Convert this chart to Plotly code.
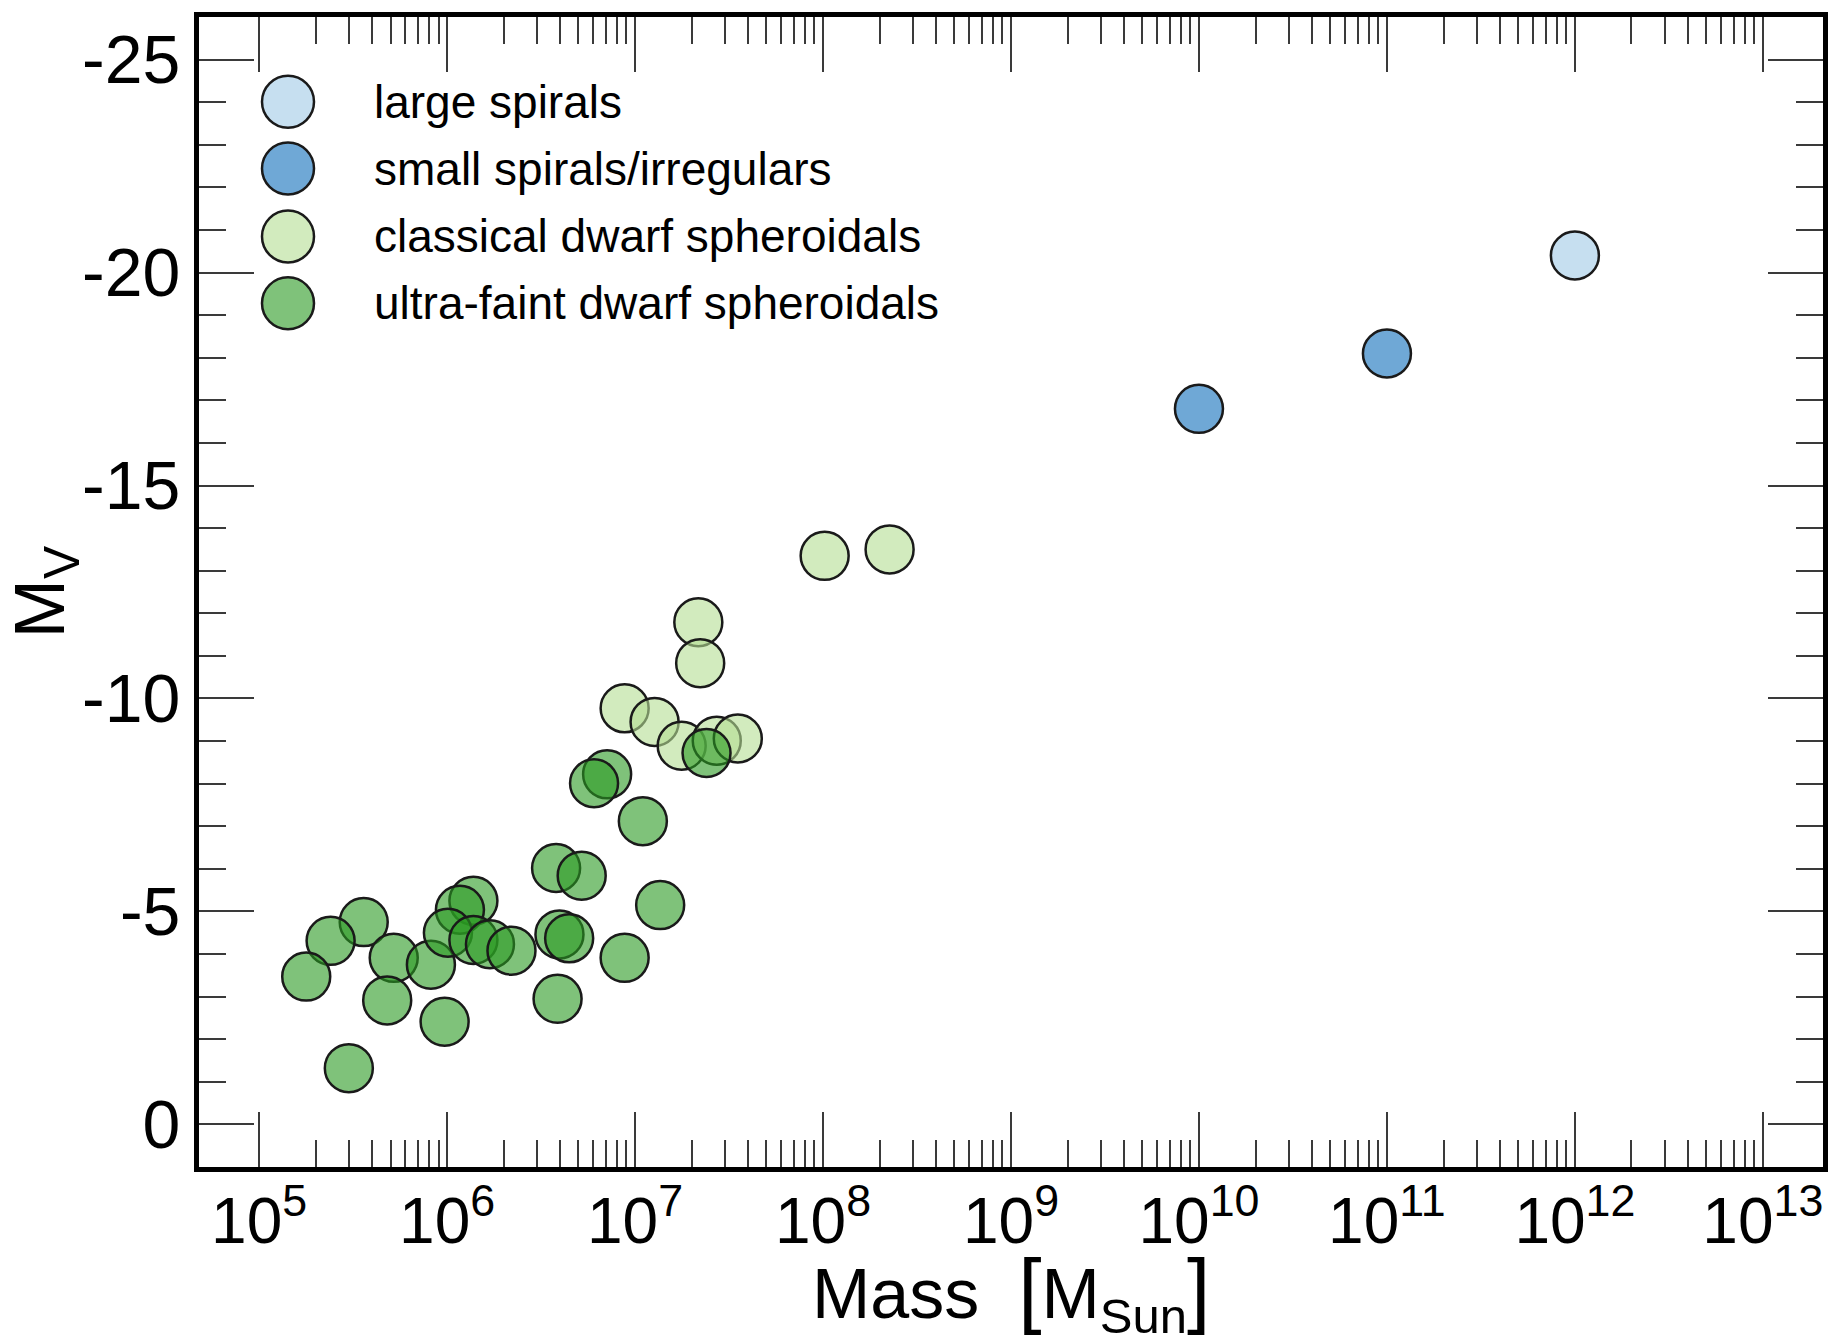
import plotly.graph_objects as go

# ---- data ----
large_spirals_mass = [1.0e12]
large_spirals_mv = [-20.4]

small_spirals_mass = [1.0e10, 1.0e11]
small_spirals_mv = [-16.8, -18.1]

classical_mass = [1.02e8, 2.26e8, 2.17e7, 2.22e7, 8.8e6, 1.27e7, 1.77e7, 2.72e7, 3.52e7]
classical_mv = [-13.35, -13.5, -11.79, -10.83, -9.77, -9.45, -8.89, -9.01, -9.06]

ultrafaint_mass = [7.1e6, 6.05e6, 2.4e7, 1.1e7, 3.8e6, 5.2e6, 1.36e7, 1.38e6, 1.17e6,
                   3.6e5, 2.4e5, 1.78e5, 5.2e5, 8.2e5, 4.8e5, 9.7e5, 3.0e5, 1.01e6,
                   1.38e6, 1.69e6, 2.2e6, 3.96e6, 4.46e6, 8.8e6, 3.87e6]
ultrafaint_mv = [-8.22, -8.01, -8.72, -7.12, -6.02, -5.84, -5.15, -5.25, -5.04,
                 -4.75, -4.31, -3.47, -3.91, -3.75, -2.91, -2.41, -1.32, -4.5,
                 -4.33, -4.23, -4.08, -4.46, -4.37, -3.91, -2.95]

series_names = ["large spirals", "small spirals/irregulars",
                "classical dwarf spheroidals", "ultra-faint dwarf spheroidals"]
series_fill = ["#c6dff0", "#6fa8d6", "rgba(180,222,147,0.6)", "rgba(42,153,33,0.6)"]

x_exponents = list(range(5, 14))
x_tickvals = [10.0 ** e for e in x_exponents]
x_ticktext = ["10<sup>%d</sup>" % e for e in x_exponents]
x_minorvals = [k * 10.0 ** e for e in x_exponents[:-1] for k in range(2, 10)]
y_tickvals = [-25, -20, -15, -10, -5, 0]
y_ticktext = ["-25", "-20", "-15", "-10", "-5", "0"]

FONT = "Liberation Sans, Arial, Helvetica, sans-serif"
EDGE = "#1a1a1a"
MSIZE = 48

fig = go.Figure()
series = [(large_spirals_mass, large_spirals_mv),
          (small_spirals_mass, small_spirals_mv),
          (classical_mass, classical_mv),
          (ultrafaint_mass, ultrafaint_mv)]
for (xs, ys), name, fill in zip(series, series_names, series_fill):
    fig.add_trace(go.Scatter(
        x=xs, y=ys, mode="markers", name=name, showlegend=False,
        marker=dict(size=MSIZE, color=fill, line=dict(color=EDGE, width=2.5)),
    ))

# ---- layout geometry ----
W, H = 1844, 1343
L, R, T, B = 199, 21, 14, 176
pw, ph = W - L - R, H - T - B

tick_col = "#3a3a3a"
fig.update_layout(
    width=W, height=H,
    margin=dict(l=L, r=R, t=T, b=B, pad=0),
    paper_bgcolor="white", plot_bgcolor="white",
    font=dict(family=FONT, color="black"),
    showlegend=False,
    xaxis=dict(
        type="log", range=[4.68, 13.32],
        tickmode="array", tickvals=x_tickvals, ticktext=x_ticktext,
        ticks="inside", ticklen=55, tickwidth=1.5, tickcolor=tick_col,
        minor=dict(ticks="inside", ticklen=27, tickwidth=1.5, tickcolor=tick_col,
                   tickmode="array", tickvals=x_minorvals, showgrid=False),
        showline=True, linewidth=5, linecolor="black", mirror="allticks",
        showgrid=False, zeroline=False,
        tickfont=dict(size=64, family=FONT),
        ticklabelstandoff=-6,
    ),
    yaxis=dict(
        range=[1, -26],
        tickmode="array", tickvals=y_tickvals, ticktext=y_ticktext,
        ticks="inside", ticklen=55, tickwidth=1.5, tickcolor=tick_col,
        minor=dict(ticks="inside", ticklen=27, tickwidth=1.5, tickcolor=tick_col,
                   dtick=1, showgrid=False),
        showline=True, linewidth=5, linecolor="black", mirror="allticks",
        showgrid=False, zeroline=False,
        tickfont=dict(size=68, family=FONT),
        title=dict(text="M<sub>V</sub>", font=dict(size=71, family=FONT), standoff=12),
    ),
)

# x-axis title as an annotation (taller brackets as in the reference)
fig.add_annotation(
    xref="paper", yref="paper", x=0.5, y=-(B + 2) / ph,
    xanchor="center", yanchor="bottom", showarrow=False,
    text="Mass  <span style='font-size:84px'>[</span>M<sub>Sun</sub><span style='font-size:84px'>]</span>",
    font=dict(size=70, family=FONT, color="black"),
)

# ---- custom legend (large markers) ----
leg_cx = 288
leg_cy = [99, 166, 234, 301]
leg_r = 26
leg_text_x = 372
for name, fill, cy in zip(series_names, series_fill, leg_cy):
    ax = (leg_cx - L) / pw
    ay = (H - B - cy) / ph
    fig.add_shape(type="circle", xref="paper", yref="paper",
                  xsizemode="pixel", ysizemode="pixel",
                  xanchor=ax, yanchor=ay,
                  x0=-leg_r, x1=leg_r, y0=-leg_r, y1=leg_r,
                  fillcolor=fill, line=dict(color=EDGE, width=2.5))
    fig.add_annotation(xref="paper", yref="paper",
                       x=(leg_text_x - L) / pw, y=ay,
                       xanchor="left", yanchor="middle", showarrow=False,
                       text=name, font=dict(size=46, family=FONT, color="black"))

fig.write_html("out.html")
